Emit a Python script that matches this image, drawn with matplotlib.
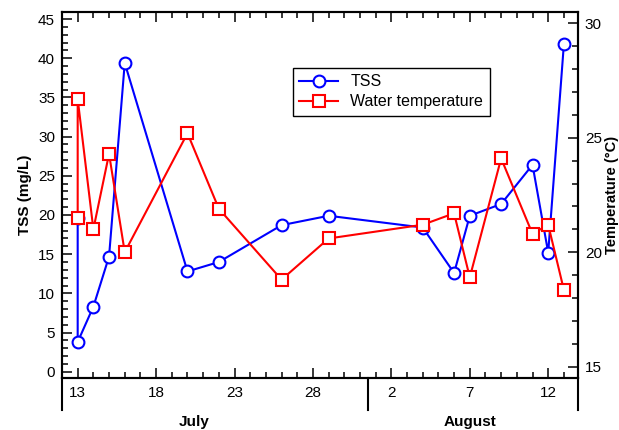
import matplotlib
matplotlib.use("Agg")
import matplotlib.pyplot as plt
import matplotlib.dates as mdates
import matplotlib.transforms as mtransforms
from matplotlib.ticker import MultipleLocator
import numpy as np

plt.rcParams["font.family"] = ["Liberation Sans", "DejaVu Sans"]

# sampling dates (two samples on 13 July)
dates = ["2013-07-13", "2013-07-13", "2013-07-14", "2013-07-15", "2013-07-16",
         "2013-07-20", "2013-07-22", "2013-07-26", "2013-07-29", "2013-08-04",
         "2013-08-06", "2013-08-07", "2013-08-09", "2013-08-11", "2013-08-12",
         "2013-08-13"]
tss = [19.6, 3.8, 8.3, 14.7, 39.4, 12.8, 14.0, 18.7, 19.9, 18.4,
       12.6, 19.9, 21.4, 26.4, 15.2, 41.8]
water_temp = [21.5, 26.7, 21.0, 24.3, 20.0, 25.2, 21.9, 18.8, 20.6, 21.2,
              21.7, 18.9, 24.1, 20.8, 21.2, 18.35]
tick_dates = ["2013-07-13", "2013-07-18", "2013-07-23", "2013-07-28",
              "2013-08-02", "2013-08-07", "2013-08-12"]
tick_labels = ["13", "18", "23", "28", "2", "7", "12"]

x = mdates.datestr2num(dates)
xt = mdates.datestr2num(tick_dates)

fig = plt.figure(figsize=(6.19, 4.30), dpi=100)
ax = fig.add_axes([62 / 619, 1 - 378 / 430, 516 / 619, 366 / 430])
ax2 = ax.twinx()

l1, = ax.plot(x, tss, color="blue", lw=1.5, marker="o", ms=8.5,
              mfc="white", mec="blue", mew=1.5, label="TSS")
l2, = ax2.plot(x, water_temp, color="red", lw=1.5, marker="s", ms=9,
               mfc="white", mec="red", mew=1.5, label="Water temperature")

x0 = mdates.datestr2num("2013-07-12")
ax.set_xlim(x0, x0 + 32.9)
ax.set_ylim(-0.8, 45.9)
ax2.set_ylim(14.5, 30.5)

ax.set_xticks(xt)
ax.set_xticklabels(tick_labels)
ax.xaxis.set_minor_locator(MultipleLocator(1))
ax.yaxis.set_major_locator(MultipleLocator(5))
ax.yaxis.set_minor_locator(MultipleLocator(1))
ax2.yaxis.set_major_locator(MultipleLocator(5))
ax2.yaxis.set_minor_locator(MultipleLocator(1))

ax.tick_params(axis="x", which="both", direction="in", top=True, bottom=True,
               labelsize=11, pad=6)
ax.tick_params(axis="y", which="both", direction="in", left=True, right=False,
               labelsize=11, pad=5)
ax2.tick_params(axis="y", which="both", direction="in", right=True,
                labelsize=11, pad=5)
for a in (ax, ax2):
    a.tick_params(which="major", length=7, width=1.1)
    a.tick_params(which="minor", length=4.5, width=1.1)
    for s in a.spines.values():
        s.set_linewidth(1.5)

ax.set_ylabel("TSS (mg/L)", fontsize=11, fontweight="bold", labelpad=4)
ax2.set_ylabel("Temperature (\u00b0C)", fontsize=10.5, fontweight="bold", labelpad=2)

# month box below the axis
trans = mtransforms.blended_transform_factory(ax.transData, ax.transAxes)
sep = mdates.datestr2num("2013-07-31") + 0.5
for xx, tr in [(0, ax.transAxes), (1, ax.transAxes), (sep, trans)]:
    ax.plot([xx, xx], [0, -0.088], transform=tr, color="black", lw=1.5,
            clip_on=False)
ax.text(mdates.datestr2num("2013-07-20") + 0.4, -0.12, "July", transform=trans,
        ha="center", va="center", fontsize=11, fontweight="bold")
ax.text(mdates.datestr2num("2013-08-07"), -0.12, "August", transform=trans,
        ha="center", va="center", fontsize=11, fontweight="bold")

leg = ax2.legend([l1, l2], ["TSS", "Water temperature"], loc="upper left",
                 bbox_to_anchor=((293 - 62) / 516, (378 - 68) / 366),
                 borderaxespad=0, fancybox=False, framealpha=1,
                 edgecolor="black", fontsize=11.5, handlelength=2.4,
                 borderpad=0.4, labelspacing=0.3)
leg.get_frame().set_linewidth(1.0)

fig.savefig("out.png", dpi=100)
